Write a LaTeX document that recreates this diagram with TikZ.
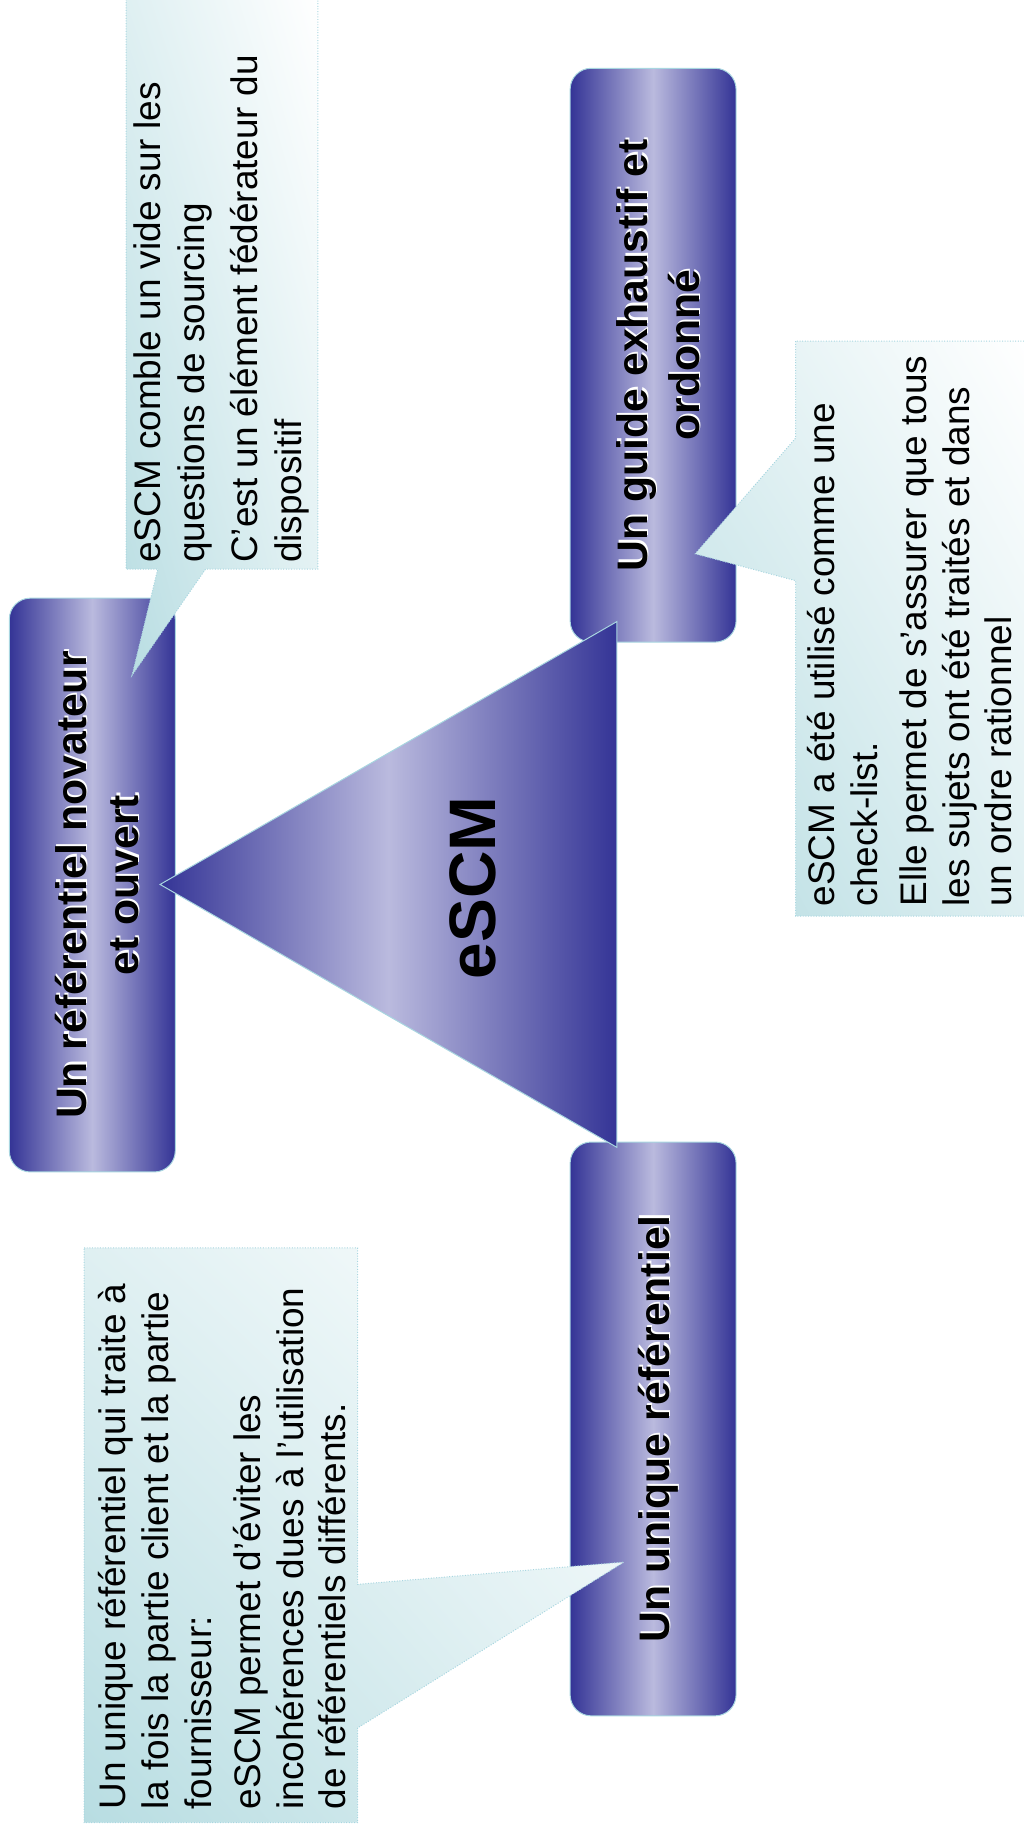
\documentclass[tikz,border=0pt]{standalone}
\usepackage{fontspec}
\setmainfont{Liberation Sans}
\usetikzlibrary{shadings}
\definecolor{navy}{RGB}{52,52,150}
\definecolor{lavender}{RGB}{186,186,222}
\definecolor{rim}{RGB}{168,214,224}
\definecolor{note}{RGB}{184,221,226}
\colorlet{note-lighter}{note!45!white}

\begin{document}
\begin{tikzpicture}[x=0.025cm, y=-0.025cm,
    pill/.style={draw=rim, line width=0.6pt, rounded corners=0.45cm,
      left color=navy, right color=navy, middle color=lavender,
      minimum width=3.55cm, minimum height=12.275cm, inner sep=0pt},
    wedge/.style={draw=rim, line width=0.6pt,
      left color=navy, right color=navy, middle color=lavender},
    bubble/.style={draw=rim, densely dotted, line width=0.6pt,
      lower left=note, upper right=white,
      upper left=note-lighter, lower right=note-lighter},
    title/.style={rotate=90, align=center, inner sep=0pt,
      font=\bfseries\fontsize{26}{32}\selectfont},
    remark/.style={rotate=90, align=left, anchor=north west, inner sep=0pt,
      font=\fontsize{22.5}{26}\selectfont}]

    \useasboundingbox (0,0) rectangle (876,1568);

    % the three pillars
    \node[pill] (novateur) at (79,757.5) {};
    \node[pill] (guide) at (559,304) {};
    \node[pill] (unique) at (559,1223) {};

    % central triangle
    \path[wedge] (137,757) -- (528,532) -- (528,982) -- cycle;

    % callouts
    \path[bubble] (108,-5) -- (108,487) -- (135,487) -- (113,578) -- (176,487)
        -- (272,487) -- (272,-5) -- cycle;
    \path[bubble] (681,292) -- (681,375) -- (595,474) -- (681,497) -- (681,784)
        -- (880,784) -- (880,292) -- cycle;
    \path[bubble] (72,1068) -- (306,1068) -- (306,1356) -- (534,1337) -- (306,1479)
        -- (306,1560) -- (72,1560) -- cycle;

    % titles, with a light shadow
    \foreach \n/\t in {novateur/{Un référentiel novateur\\et ouvert},
                       guide/{Un guide exhaustif et\\ordonné},
                       unique/{Un unique référentiel}} {
        \node[title, white, xshift=1.4pt, yshift=-0.6pt] (\n-s) at ([xshift=3pt]\n.center) {\t};
        \node[title] (\n-t) at ([xshift=3pt]\n.center) {\t};
    }
    \node[rotate=90, inner sep=0pt, font=\bfseries\fontsize{40}{44}\selectfont] (escm) at (405,760) {eSCM};

    \node[remark, font=\fontsize{22.5}{27}\selectfont] (note-novateur) at (114,482) {eSCM comble un vide sur les\\
        questions de sourcing\\[5pt]
        C’est un élément fédérateur du\\
        dispositif};
    \node[remark] (note-guide) at (690.5,776) {eSCM a été utilisé comme une\\
        check-list.\\[4pt]
        Elle permet de s’assurer que tous\\
        les sujets ont été traités et dans\\
        un ordre rationnel};
    \node[remark] (note-unique) at (84,1549) {Un unique référentiel qui traite à\\
        la fois la partie client et la partie\\
        fournisseur:\\[4pt]
        eSCM permet d’éviter les\\
        incohérences dues à l’utilisation\\
        de référentiels différents.};

\end{tikzpicture}
\end{document}
